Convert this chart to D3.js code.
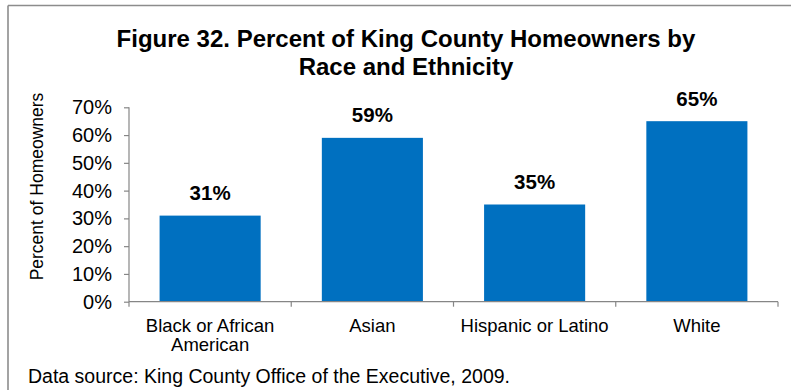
<!DOCTYPE html>
<html>
<head>
<meta charset="utf-8">
<script src="https://cdn.jsdelivr.net/npm/d3@7"></script>
<style>
  html, body { margin: 0; padding: 0; background: #ffffff; }
  svg { display: block; font-family: "Liberation Sans", Arial, sans-serif; }
</style>
</head>
<body>
<svg id="chart" width="791" height="390"></svg>
<script>
// Homeowner share by race and ethnicity, King County
const categories = ["Black or African American", "Asian", "Hispanic or Latino", "White"];
const values = [31, 59, 35, 65];
const yTicks = [0, 10, 20, 30, 40, 50, 60, 70];
const titleLines = ["Figure 32. Percent of King County Homeowners by", "Race and Ethnicity"];
const yAxisTitle = "Percent of Homeowners";
const sourceNote = "Data source: King County Office of the Executive, 2009.";

const svg = d3.select("#chart");
const W = 791, H = 390;
const plot = { left: 129, right: 778, top: 107.3, bottom: 301.7 };
const axisColor = "#868686";
const barColor = "#0070C0";

// Frame lines (top and left edges of the figure box)
svg.append("line").attr("x1", 8).attr("x2", W).attr("y1", 5.5).attr("y2", 5.5)
  .attr("stroke", "#8c8c8c").attr("stroke-width", 1.6);
svg.append("line").attr("x1", 8).attr("x2", 8).attr("y1", 5.5).attr("y2", H)
  .attr("stroke", "#8c8c8c").attr("stroke-width", 1.6);

// Title
svg.append("text")
  .attr("x", 406).attr("y", 46.5)
  .attr("text-anchor", "middle")
  .attr("font-weight", "bold").attr("font-size", 24)
  .attr("fill", "#000")
  .selectAll("tspan").data(titleLines).join("tspan")
  .attr("x", 406).attr("dy", (d, i) => i === 0 ? 0 : 28)
  .text(d => d);

// Scales
const x = d3.scaleBand()
  .domain(categories)
  .range([plot.left, plot.right])
  .paddingInner(0.377)
  .paddingOuter(0.1885);
const step = x.step();

const y = d3.scaleLinear()
  .domain([0, 70])
  .range([plot.bottom, plot.top]);

// Y axis
const yAxis = svg.append("g")
  .attr("transform", `translate(${plot.left},0)`)
  .call(d3.axisLeft(y).tickValues(yTicks).tickFormat(d => d + "%")
    .tickSizeInner(5).tickSizeOuter(0).tickPadding(12));
yAxis.select(".domain").remove();
yAxis.append("line")
  .attr("x1", 0).attr("x2", 0)
  .attr("y1", plot.top).attr("y2", plot.bottom + 5)
  .attr("stroke", axisColor).attr("stroke-width", 1.2);
yAxis.selectAll(".tick line").attr("stroke", axisColor).attr("stroke-width", 1.2);
yAxis.selectAll(".tick text")
  .attr("font-size", 20).attr("fill", "#000")
  .attr("font-family", "Liberation Sans, Arial, sans-serif");

// Bars
svg.append("g").selectAll("rect")
  .data(values)
  .join("rect")
  .attr("x", (d, i) => x(categories[i]))
  .attr("width", x.bandwidth())
  .attr("y", d => y(d))
  .attr("height", d => y(0) - y(d))
  .attr("fill", barColor);

// Value labels
svg.append("g").selectAll("text")
  .data(values)
  .join("text")
  .attr("x", (d, i) => x(categories[i]) + x.bandwidth() / 2)
  .attr("y", d => y(d) - 15.5)
  .attr("text-anchor", "middle")
  .attr("font-weight", "bold").attr("font-size", 20.5)
  .attr("fill", "#000")
  .text(d => d + "%");

// X axis: baseline with category boundary ticks
const xAxis = svg.append("g");
xAxis.append("line")
  .attr("x1", plot.left).attr("x2", plot.right)
  .attr("y1", plot.bottom).attr("y2", plot.bottom)
  .attr("stroke", axisColor).attr("stroke-width", 1.2);
xAxis.selectAll("line.bound")
  .data(categories)
  .join("line")
  .attr("class", "bound")
  .attr("x1", d => x(d) + x.bandwidth() + (step - x.bandwidth()) / 2)
  .attr("x2", d => x(d) + x.bandwidth() + (step - x.bandwidth()) / 2)
  .attr("y1", plot.bottom).attr("y2", plot.bottom + 5)
  .attr("stroke", axisColor).attr("stroke-width", 1.2);

// Category labels, wrapped to the band width
const labelSize = 18.5;
const labels = xAxis.selectAll("text.cat")
  .data(categories)
  .join("text")
  .attr("class", "cat")
  .attr("text-anchor", "middle")
  .attr("font-size", labelSize)
  .attr("fill", "#000")
  .attr("y", plot.bottom + 30);

labels.each(function(d) {
  const t = d3.select(this);
  const cx = x(d) + x.bandwidth() / 2;
  const words = d.split(" ");
  let line = [];
  let tspan = t.append("tspan").attr("x", cx).attr("dy", 0);
  words.forEach(w => {
    line.push(w);
    tspan.text(line.join(" "));
    if (tspan.node().getComputedTextLength() > step - 10 && line.length > 1) {
      line.pop();
      tspan.text(line.join(" "));
      line = [w];
      tspan = t.append("tspan").attr("x", cx).attr("dy", 19).text(w);
    }
  });
});

// Y axis title
svg.append("text")
  .attr("transform", `translate(42.5,186.5) rotate(-90)`)
  .attr("text-anchor", "middle")
  .attr("font-size", 17.5)
  .attr("fill", "#000")
  .text(yAxisTitle);

// Source note
svg.append("text")
  .attr("x", 28).attr("y", 383)
  .attr("font-size", 19.5)
  .attr("fill", "#000")
  .text(sourceNote);
</script>
</body>
</html>
